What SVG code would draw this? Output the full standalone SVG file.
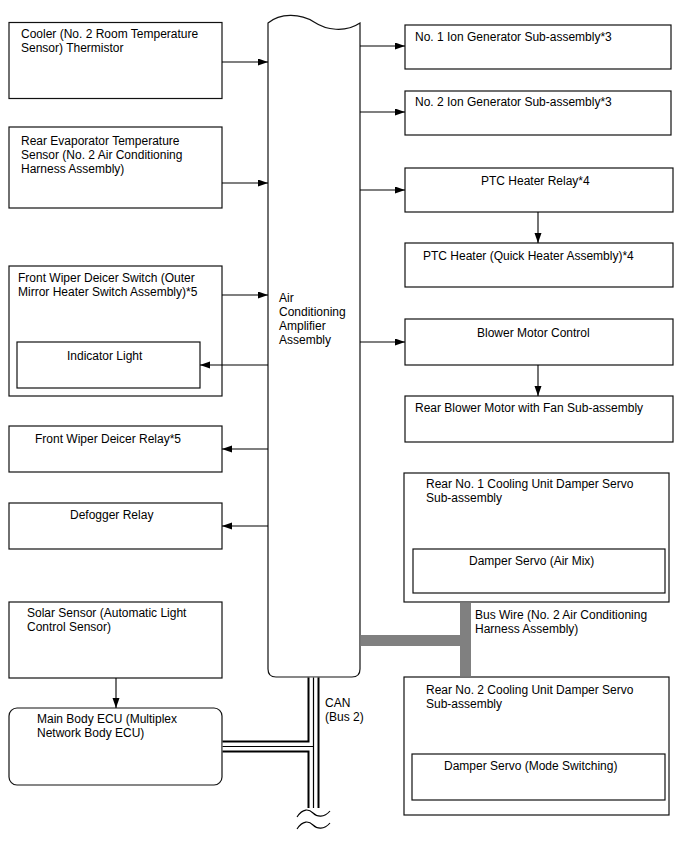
<svg xmlns="http://www.w3.org/2000/svg" width="688" height="852" viewBox="0 0 688 852">
<defs>
<marker id="ah" markerUnits="userSpaceOnUse" markerWidth="11" markerHeight="8" refX="10" refY="3.5" orient="auto">
<path d="M0,0 L10,3.5 L0,7 z" fill="#000"/>
</marker>
<style>
.box{fill:#fff;stroke:#111;stroke-width:1.2}
.t{font-family:"Liberation Sans",Arial,sans-serif;font-size:12px;fill:#000}
.c{stroke:#000;stroke-width:1.1;fill:none}
.a{stroke:#000;stroke-width:1.1;fill:none;marker-end:url(#ah)}
.bus{fill:#808080}
</style>
</defs>
<rect width="688" height="852" fill="#fff"/>

<g id="amp">
<path class="box" d="M268,23 C280,13 300,13 314,22 C326,30 345,33 360,23 V669 Q360,677 352,677 H276 Q268,677 268,669 Z"/>
<text class="t" x="279" y="302">Air</text>
<text class="t" x="279" y="316">Conditioning</text>
<text class="t" x="279" y="330">Amplifier</text>
<text class="t" x="279" y="344">Assembly</text>
</g>

<g id="cooler">
<rect class="box" x="9" y="22.5" width="213" height="76"/>
<text class="t" x="21" y="38">Cooler (No. 2 Room Temperature</text>
<text class="t" x="21" y="52">Sensor) Thermistor</text>
</g>
<g id="rear-evap">
<rect class="box" x="9" y="127" width="213" height="81"/>
<text class="t" x="21" y="145">Rear Evaporator Temperature</text>
<text class="t" x="21" y="159">Sensor (No. 2 Air Conditioning</text>
<text class="t" x="21" y="173">Harness Assembly)</text>
</g>
<g id="fw-switch">
<rect class="box" x="9" y="266" width="213" height="130"/>
<text class="t" x="18" y="282">Front Wiper Deicer Switch (Outer</text>
<text class="t" x="18" y="296">Mirror Heater Switch Assembly)*5</text>
</g>
<g id="indicator">
<rect class="box" x="17" y="342" width="183" height="46"/>
<text class="t" x="67" y="360">Indicator Light</text>
</g>
<g id="fw-relay">
<rect class="box" x="9" y="426" width="213" height="46"/>
<text class="t" x="35" y="443">Front Wiper Deicer Relay*5</text>
</g>
<g id="defogger">
<rect class="box" x="9" y="503" width="213" height="46"/>
<text class="t" x="70" y="519">Defogger Relay</text>
</g>
<g id="solar">
<rect class="box" x="9" y="602" width="213" height="76"/>
<text class="t" x="27" y="617">Solar Sensor (Automatic Light</text>
<text class="t" x="27" y="631">Control Sensor)</text>
</g>
<g id="main-ecu">
<rect class="box" x="9" y="708" width="213" height="77" rx="8"/>
<text class="t" x="37" y="723">Main Body ECU (Multiplex</text>
<text class="t" x="37" y="737">Network Body ECU)</text>
</g>

<g id="ion1">
<rect class="box" x="405" y="25" width="266" height="44"/>
<text class="t" x="415" y="41">No. 1 Ion Generator Sub-assembly*3</text>
</g>
<g id="ion2">
<rect class="box" x="405" y="91" width="266" height="44"/>
<text class="t" x="415" y="106">No. 2 Ion Generator Sub-assembly*3</text>
</g>
<g id="ptc-relay">
<rect class="box" x="405" y="168" width="268" height="44"/>
<text class="t" x="481" y="185">PTC Heater Relay*4</text>
</g>
<g id="ptc-heater">
<rect class="box" x="405" y="243" width="268" height="44"/>
<text class="t" x="423" y="260">PTC Heater (Quick Heater Assembly)*4</text>
</g>
<g id="blower-ctrl">
<rect class="box" x="405" y="319" width="268" height="46"/>
<text class="t" x="477" y="337">Blower Motor Control</text>
</g>
<g id="rear-blower">
<rect class="box" x="405" y="396" width="268" height="46"/>
<text class="t" x="415" y="412">Rear Blower Motor with Fan Sub-assembly</text>
</g>
<g id="rear-no1">
<rect class="box" x="404" y="473" width="265" height="129"/>
<text class="t" x="426" y="488">Rear No. 1 Cooling Unit Damper Servo</text>
<text class="t" x="426" y="502">Sub-assembly</text>
</g>
<g id="servo-airmix">
<rect class="box" x="413" y="549" width="252" height="44"/>
<text class="t" x="469" y="565">Damper Servo (Air Mix)</text>
</g>
<g id="rear-no2">
<rect class="box" x="404" y="677" width="265" height="138"/>
<text class="t" x="426" y="694">Rear No. 2 Cooling Unit Damper Servo</text>
<text class="t" x="426" y="708">Sub-assembly</text>
</g>
<g id="servo-mode">
<rect class="box" x="412" y="754" width="253" height="46"/>
<text class="t" x="444" y="770">Damper Servo (Mode Switching)</text>
</g>

<g id="connectors">
<path class="a" d="M222,62 H268"/>
<path class="a" d="M222,183 H268"/>
<path class="a" d="M222,295 H268"/>
<path class="a" d="M268,365 H200"/>
<path class="a" d="M268,449 H222"/>
<path class="a" d="M268,526 H222"/>
<path class="a" d="M116,678 V708"/>
<path class="a" d="M360,46 H405"/>
<path class="a" d="M360,112 H405"/>
<path class="a" d="M360,190 H405"/>
<path class="a" d="M360,342 H405"/>
<path class="a" d="M538,212 V243"/>
<path class="a" d="M538,365 V396"/>
<g id="buswire">
<rect class="bus" x="360.6" y="635" width="110.4" height="11"/>
<rect class="bus" x="460" y="602.6" width="11" height="73.8"/>
</g>
<g id="can">
<path d="M313.5,677.6 V813 M222.6,746.5 H313.5" stroke="#000" stroke-width="12" fill="none"/>
<path d="M313.5,677.6 V813 M222.6,746.5 H313.5" stroke="#fff" stroke-width="8" fill="none"/>
<path d="M313.5,677.6 V813 M222.6,746.5 H313.5" stroke="#000" stroke-width="1.2" fill="none"/>
<path d="M294,808 H334 V818 H294 z" fill="#fff"/>
<path class="c" d="M297,817 C303,808 309,809 313,813 C317,817 324,818 330,811"/>
<path class="c" d="M297,829 C303,820 309,821 313,825 C317,829 324,830 330,823"/>
</g>
</g>

<g id="labels">
<text class="t" x="475" y="619">Bus Wire (No. 2 Air Conditioning</text>
<text class="t" x="475" y="633">Harness Assembly)</text>
<text class="t" x="325" y="707">CAN</text>
<text class="t" x="325" y="721">(Bus 2)</text>
</g>
</svg>
